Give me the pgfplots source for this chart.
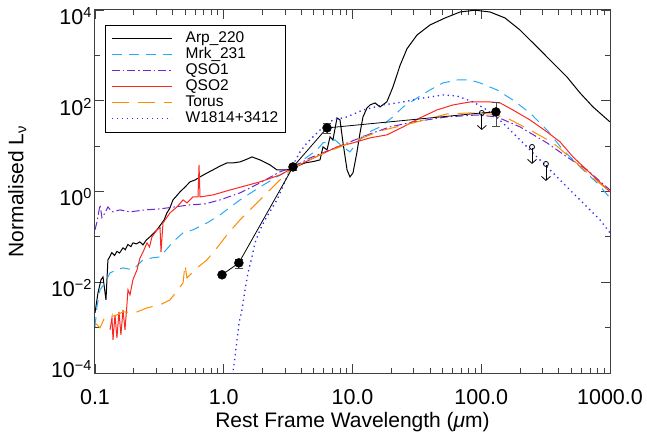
\documentclass[border=0pt]{standalone}
\usepackage{fontspec}
\setmainfont{Liberation Sans}
\usepackage{pgfplots}
\pgfplotsset{compat=1.18}
\usetikzlibrary{arrows.meta}

\definecolor{mrkblue}{RGB}{40,170,245}
\definecolor{qsopurple}{RGB}{110,40,210}
\definecolor{qsored}{RGB}{250,40,30}
\definecolor{torusorange}{RGB}{255,140,0}
\definecolor{wblue}{RGB}{40,40,255}

\newcommand{\ex}[1]{10\raisebox{7pt}{\fontsize{14.5}{14.5}\selectfont #1}}

\pgfplotsset{
    arpstyle/.style={draw=black, line width=1pt},
    mrkstyle/.style={draw=mrkblue, line width=1pt, dash pattern=on 10pt off 7pt},
    qsoonestyle/.style={draw=qsopurple, line width=1pt, dash pattern=on 8pt off 3pt on 1.5pt off 3pt},
    qsotwostyle/.style={draw=qsored, line width=1pt},
    torusstyle/.style={draw=torusorange, line width=1pt, dash pattern=on 17pt off 9pt},
    wstyle/.style={draw=wblue, line width=1.3pt, dash pattern=on 1.3pt off 3.7pt},
}

\begin{document}
\begin{tikzpicture}
\path[use as bounding box] (-95pt,-68pt) rectangle (552pt,373pt);
\begin{axis}[
    at={(0pt,0pt)}, anchor=south west,
    scale only axis,
    width=515pt, height=363pt,
    xmode=log, ymode=log,
    xmin=0.1, xmax=1000, ymin=1e-4, ymax=1e4,
    xtick={0.1,1,10,100,1000},
    xticklabels={0.1,1.0,10.0,100.0,1000.0},
    minor xtick={0.2,0.3,0.4,0.5,0.6,0.7,0.8,0.9,2,3,4,5,6,7,8,9,20,30,40,50,60,70,80,90,200,300,400,500,600,700,800,900},
    ytick={1e-4,1e-2,1,1e2,1e4},
    yticklabels={\raisebox{10pt}[\height][\depth]{\ex{−4}},\ex{−2},\ex{0},\ex{2},\ex{4}},
    minor ytick={1e-3,1e-1,10,1e3},
    major tick length=9pt, minor tick length=5pt,
    tick style={black!75, line width=0.9pt},
    axis line style={black!75, line width=1pt},
    ticklabel style={font=\fontsize{21.5}{24}\selectfont},
    xticklabel style={yshift=-13pt},
    yticklabel style={yshift=-6pt},
    xlabel={Rest Frame Wavelength (\textit{μ}m)},
    ylabel={Normalised L\textsubscript{ν}},
    label style={font=\fontsize{21}{24}\selectfont},
    xlabel style={at={(axis description cs:0.5,-0.151)}, anchor=base},
    ylabel style={at={(axis description cs:-0.151,0.5)}, anchor=center},
    legend cell align=left,
    legend image code/.code={\draw[#1, line width=1.5pt] (0pt,0pt) -- (60pt,0pt);},
    legend style={at={(0.0194,0.9587)}, anchor=north west, draw=black,
        font=\fontsize{15.5}{17}\selectfont,
        nodes={inner sep=1pt, text height=10.5pt, text depth=3.5pt},
        row sep=0pt, inner xsep=6pt, inner ysep=5.5pt,
        /tikz/every odd column/.append style={column sep=12pt}},
]

% legend entries
\addlegendimage{arpstyle}
\addlegendentry{Arp\_220}
\addlegendimage{mrkstyle}
\addlegendentry{Mrk\_231}
\addlegendimage{qsoonestyle}
\addlegendentry{QSO1}
\addlegendimage{qsotwostyle}
\addlegendentry{QSO2}
\addlegendimage{torusstyle}
\addlegendentry{Torus}
\addlegendimage{wstyle}
\addlegendentry{W1814+3412}

% Arp_220
\addplot[arpstyle, forget plot] coordinates {
(0.1,0.00212) (0.1055,0.00585) (0.1113,0.0113) (0.1154,0.01315) (0.1217,0.00409)
(0.126,0.0311) (0.13,0.036) (0.135,0.045) (0.142,0.039) (0.148,0.048) (0.155,0.044)
(0.165,0.0573) (0.172,0.052) (0.18,0.068) (0.19,0.061) (0.197,0.0738) (0.21,0.07)
(0.223,0.0777) (0.236,0.0667) (0.25,0.085) (0.267,0.1) (0.285,0.12) (0.303,0.143)
(0.33,0.2) (0.345,0.24) (0.362,0.338) (0.38,0.42) (0.4035,0.653) (0.43,0.8)
(0.457,0.98) (0.5,1.25) (0.547,1.63) (0.6,1.8) (0.654,2.1) (0.73,2.5) (0.825,3.0)
(0.93,3.6) (1.06,4.27) (1.2,4.3) (1.337,4.49) (1.5,5.1) (1.657,5.78) (1.912,4.97)
(2.287,3.85) (2.59,2.99) (3.10,2.99) (3.45,3.31) (4.28,4.27) (5.0,4.6) (5.59,4.97)
(5.90,9.6) (6.34,8.25) (6.69,16.0) (7.05,13.7) (7.58,41.8) (8.0,37.8) (8.44,11.8)
(9.07,2.99) (9.56,2.1) (10.09,2.57) (10.8,7.08) (11.44,19.5) (12.06,44) (12.96,69.4)
(13.68,80.8) (14.96,89.5) (16.36,73) (18.5,95) (20.6,200) (23.4,600) (26.5,1400)
(31.7,2812) (40.0,4677) (52.3,6665) (68.4,9036) (89.4,9900) (117,9036) (153,6665)
(200,3625) (261.6,1695) (342,792) (463,334) (585,148.6) (738,73) (1000,34.1)
};

% Mrk_231
\addplot[mrkstyle, forget plot] coordinates {
(0.1,0.00104) (0.1036,0.00287) (0.1094,0.0068) (0.1196,0.0097) (0.1308,0.0161)
(0.148,0.0188) (0.165,0.0207) (0.197,0.0188) (0.236,0.0311) (0.277,0.0344)
(0.32,0.0362) (0.4035,0.0777) (0.483,0.1225) (0.577,0.143) (0.741,0.203)
(0.935,0.305) (1.337,0.653) (1.912,1.26) (2.59,2.1) (3.45,3.31) (4.13,4.97)
(5.30,8.25) (5.90,11.8) (7.31,13.7) (8.44,9.6) (9.56,7.45) (10.8,11.8) (12.96,19.5)
(16.36,26.5) (20.6,44) (24.7,73) (31.7,115) (40.0,173) (50.4,247) (64.8,287)
(81.8,287) (97.8,247) (132.6,173) (176,104) (239,53.9) (324,22.7) (431,8.25)
(585,3.48) (793,1.55) (1000,0.723)
};

% QSO1
\addplot[qsoonestyle, forget plot] coordinates {
(0.1,0.143) (0.1036,0.214) (0.1094,0.507) (0.1133,0.263) (0.1196,0.338) (0.126,0.458)
(0.1355,0.356) (0.1564,0.393) (0.187,0.356) (0.245,0.393) (0.32,0.414) (0.418,0.458)
(0.547,0.507) (0.715,0.533) (0.935,0.653) (1.337,0.93) (1.912,1.55) (2.735,2.71)
(3.45,3.48) (4.68,5.5) (6.69,8.25) (9.56,12.4) (13.68,18.6) (19.56,26.5) (29.5,34.1)
(54.2,44) (92.7,48.6) (132.6,44) (200,26.5) (324,11.8) (463,5.78) (663,2.99) (1000,1.08)
};

% QSO2
\addplot[qsotwostyle, forget plot] coordinates {
(0.1308,0.000895) (0.1355,0.00164) (0.138,0.000539) (0.143,0.00191) (0.148,0.000596)
(0.1536,0.00223) (0.159,0.000693) (0.165,0.00247) (0.171,0.000895) (0.177,0.00318)
(0.1804,0.0068) (0.187,0.00527) (0.197,0.0113) (0.212,0.01875) (0.2236,0.0344)
(0.235,0.045) (0.2535,0.0738) (0.265,0.06) (0.277,0.1) (0.303,0.143) (0.32,0.16)
(0.3256,0.0468) (0.3375,0.203) (0.3824,0.338) (0.4335,0.458) (0.483,0.653)
(0.518,0.561) (0.577,0.76) (0.631,0.76) (0.643,3.85) (0.654,0.76) (0.825,0.841)
(1.118,1.08) (1.912,1.63) (2.735,2.32) (3.45,3.31) (5.59,6.4) (7.58,9.6) (10.09,11.8)
(13.68,15.2) (18.5,17.7) (24.7,26.5) (33.4,41.8) (45.3,62.7) (60.3,80.8) (81.8,94.1)
(117,94.1) (140,89.5) (176,62.7) (239,37.8) (324,20.6) (409,12.4) (516,5.78)
(699,2.57) (1000,0.98)
};

% Torus
\addplot[torusstyle, forget plot] coordinates {
(0.1,0.00128) (0.1094,0.00099) (0.1196,0.00173) (0.143,0.00182) (0.165,0.00223)
(0.2045,0.00212) (0.2535,0.00273) (0.32,0.00318) (0.3824,0.00409) (0.441,0.0068)
(0.483,0.0097) (0.5,0.0242) (0.518,0.0125) (0.62,0.0207) (0.741,0.0311) (0.886,0.0573)
(1.06,0.111) (1.337,0.237) (1.687,0.458) (2.167,0.93) (2.735,1.80) (3.45,3.31)
(5.59,6.4) (9.56,11.8) (16.36,21.6) (29.5,32.4) (54.2,51.2) (81.8,53.9) (117,51.2)
(158,41.8) (239,22.7) (361,11.8) (516,4.97) (738,2.0) (1000,0.98)
};

% W1814+3412
\addplot[wstyle, forget plot] coordinates {
(1.17,0.00009) (1.223,0.000228) (1.268,0.000539) (1.315,0.00128) (1.386,0.00247)
(1.462,0.0068) (1.543,0.0161) (1.657,0.0362) (1.749,0.0738) (1.912,0.143) (2.09,0.237)
(2.59,0.653) (3.10,2.1) (3.45,3.85) (3.91,7.45) (4.43,11.8) (5.59,22.7) (7.05,37.8)
(9.07,44) (12.06,62.7) (17.3,80.8) (24.7,94.1) (35.3,115) (50.4,134) (64.8,128)
(86.3,94.1) (111,62.7) (147.6,32.4) (200,13.7) (271,5.78) (361,2.57) (489,1.08)
(663,0.458) (836,0.237) (1000,0.1225)
};

% photometry of W1814+3412
\addplot[black, line width=0.8pt, forget plot] coordinates {
(0.97,0.0146) (1.31,0.0267) (3.45,3.48) (6.34,25.2) (101,53.9) (130,56.7)
};
\addplot[only marks, mark=*, mark size=4.5pt, black, forget plot,
    error bars/.cd, y dir=both, y explicit,
    error bar style={black!70, line width=0.8pt},
    error mark options={rotate=90, mark size=4pt, black!70, line width=0.8pt}]
coordinates {
(0.97,0.0146) +- (0,0.0012)
(1.31,0.0267) += (0,0.006) -= (0,0.006)
(3.45,3.48) += (0,0.56) -= (0,0.5)
(6.34,25.2) += (0,5.7) -= (0,5.7)
(130,56.7) += (0,33) -= (0,30)
};

% upper limits
\addplot[only marks, mark=o, mark size=2.5pt, black, mark options={line width=0.8pt}, forget plot]
coordinates {(101,53.9) (248,9.6) (318,4.05)};
\addplot[black, line width=0.8pt, -{Straight Barb[length=4pt,width=9pt]}, forget plot]
coordinates {(101,50) (101,22.7)};
\addplot[black, line width=0.8pt, -{Straight Barb[length=4pt,width=9pt]}, forget plot]
coordinates {(248,8.9) (248,4.06)};
\addplot[black, line width=0.8pt, -{Straight Barb[length=4pt,width=9pt]}, forget plot]
coordinates {(318,3.75) (318,1.71)};

\end{axis}
\end{tikzpicture}
\end{document}
